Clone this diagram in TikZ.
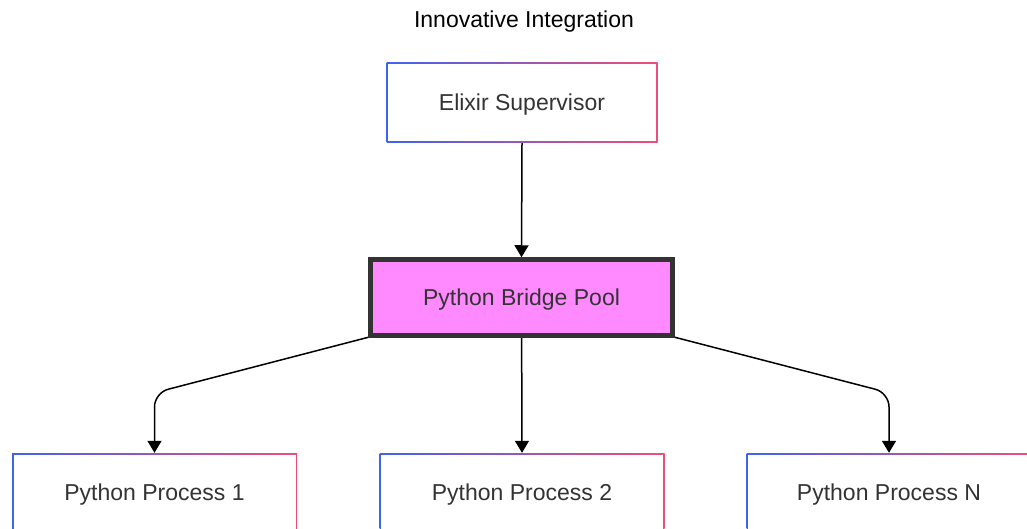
\documentclass[tikz,border=0pt]{standalone}
\usepackage{fontspec}
\setmainfont{Liberation Sans}
\usetikzlibrary{arrows.meta,backgrounds,calc}
\definecolor{gblue}{RGB}{64,98,242}
\definecolor{gpink}{RGB}{238,78,118}
\definecolor{txt}{RGB}{51,51,51}
\definecolor{poolfill}{RGB}{255,138,255}
\begin{document}
\begin{tikzpicture}[x=1pt,y=-1pt,
  lbl/.style={font=\fontsize{23}{28}\selectfont, text=txt},
  gframe/.style={rectangle, inner sep=0pt, left color=gblue, right color=gpink, draw=none},
  gfill/.style={rectangle, inner sep=0pt, fill=white, draw=none, lbl},
  pool/.style={rectangle, inner sep=0pt, draw=txt, line width=4.5pt, fill=poolfill, lbl,
    minimum width=302pt, minimum height=76pt},
  arr/.style={line width=1.5pt, black, -{Triangle[width=14pt,length=12pt]}},
  elbowarr/.style={arr, rounded corners=14pt}]
\useasboundingbox (0,0) rectangle (1027,529);
\clip (0,0) rectangle (1027,529);

% title
\node[lbl, text=black] (title) at (524,22) {Innovative Integration};

% supervisor box with gradient frame
\node[gframe, minimum width=271pt, minimum height=80pt] (sup) at (522,103) {};
\node[gfill, minimum width=268pt, minimum height=77pt] (supin) at (sup) {};
\node[lbl] at ($(supin)+(0,2)$) {Elixir Supervisor};

% bridge pool
\node[pool] (br) at (521.5,297.5) {};
\node[lbl] at ($(br)+(0,2)$) {Python Bridge Pool};

% worker processes
\foreach \n/\x/\t in {p1/154.5/1, p2/522/2, p3/889/N}{
  \node[gframe, minimum width=285pt, minimum height=80pt] (\n) at (\x,493) {};
  \node[gfill, minimum width=282pt, minimum height=77pt] (\n in) at (\n) {};
  \node[lbl] at ($(\n in)+(0,2)$) {Python Process \t};
}

% connectors
\coordinate (k1) at ($(p1.north)+(0,-60)$);
\coordinate (k3) at ($(p3.north)+(0,-60)$);
\begin{pgfonlayer}{background}
  \draw[arr] (sup.south) -- (br.north);
  \draw[arr] (br.center) -- (p2.north);
  \draw[elbowarr] (br.center) -- (k1) -- (p1.north);
  \draw[elbowarr] (br.center) -- (k3) -- (p3.north);
\end{pgfonlayer}
\end{tikzpicture}
\end{document}
